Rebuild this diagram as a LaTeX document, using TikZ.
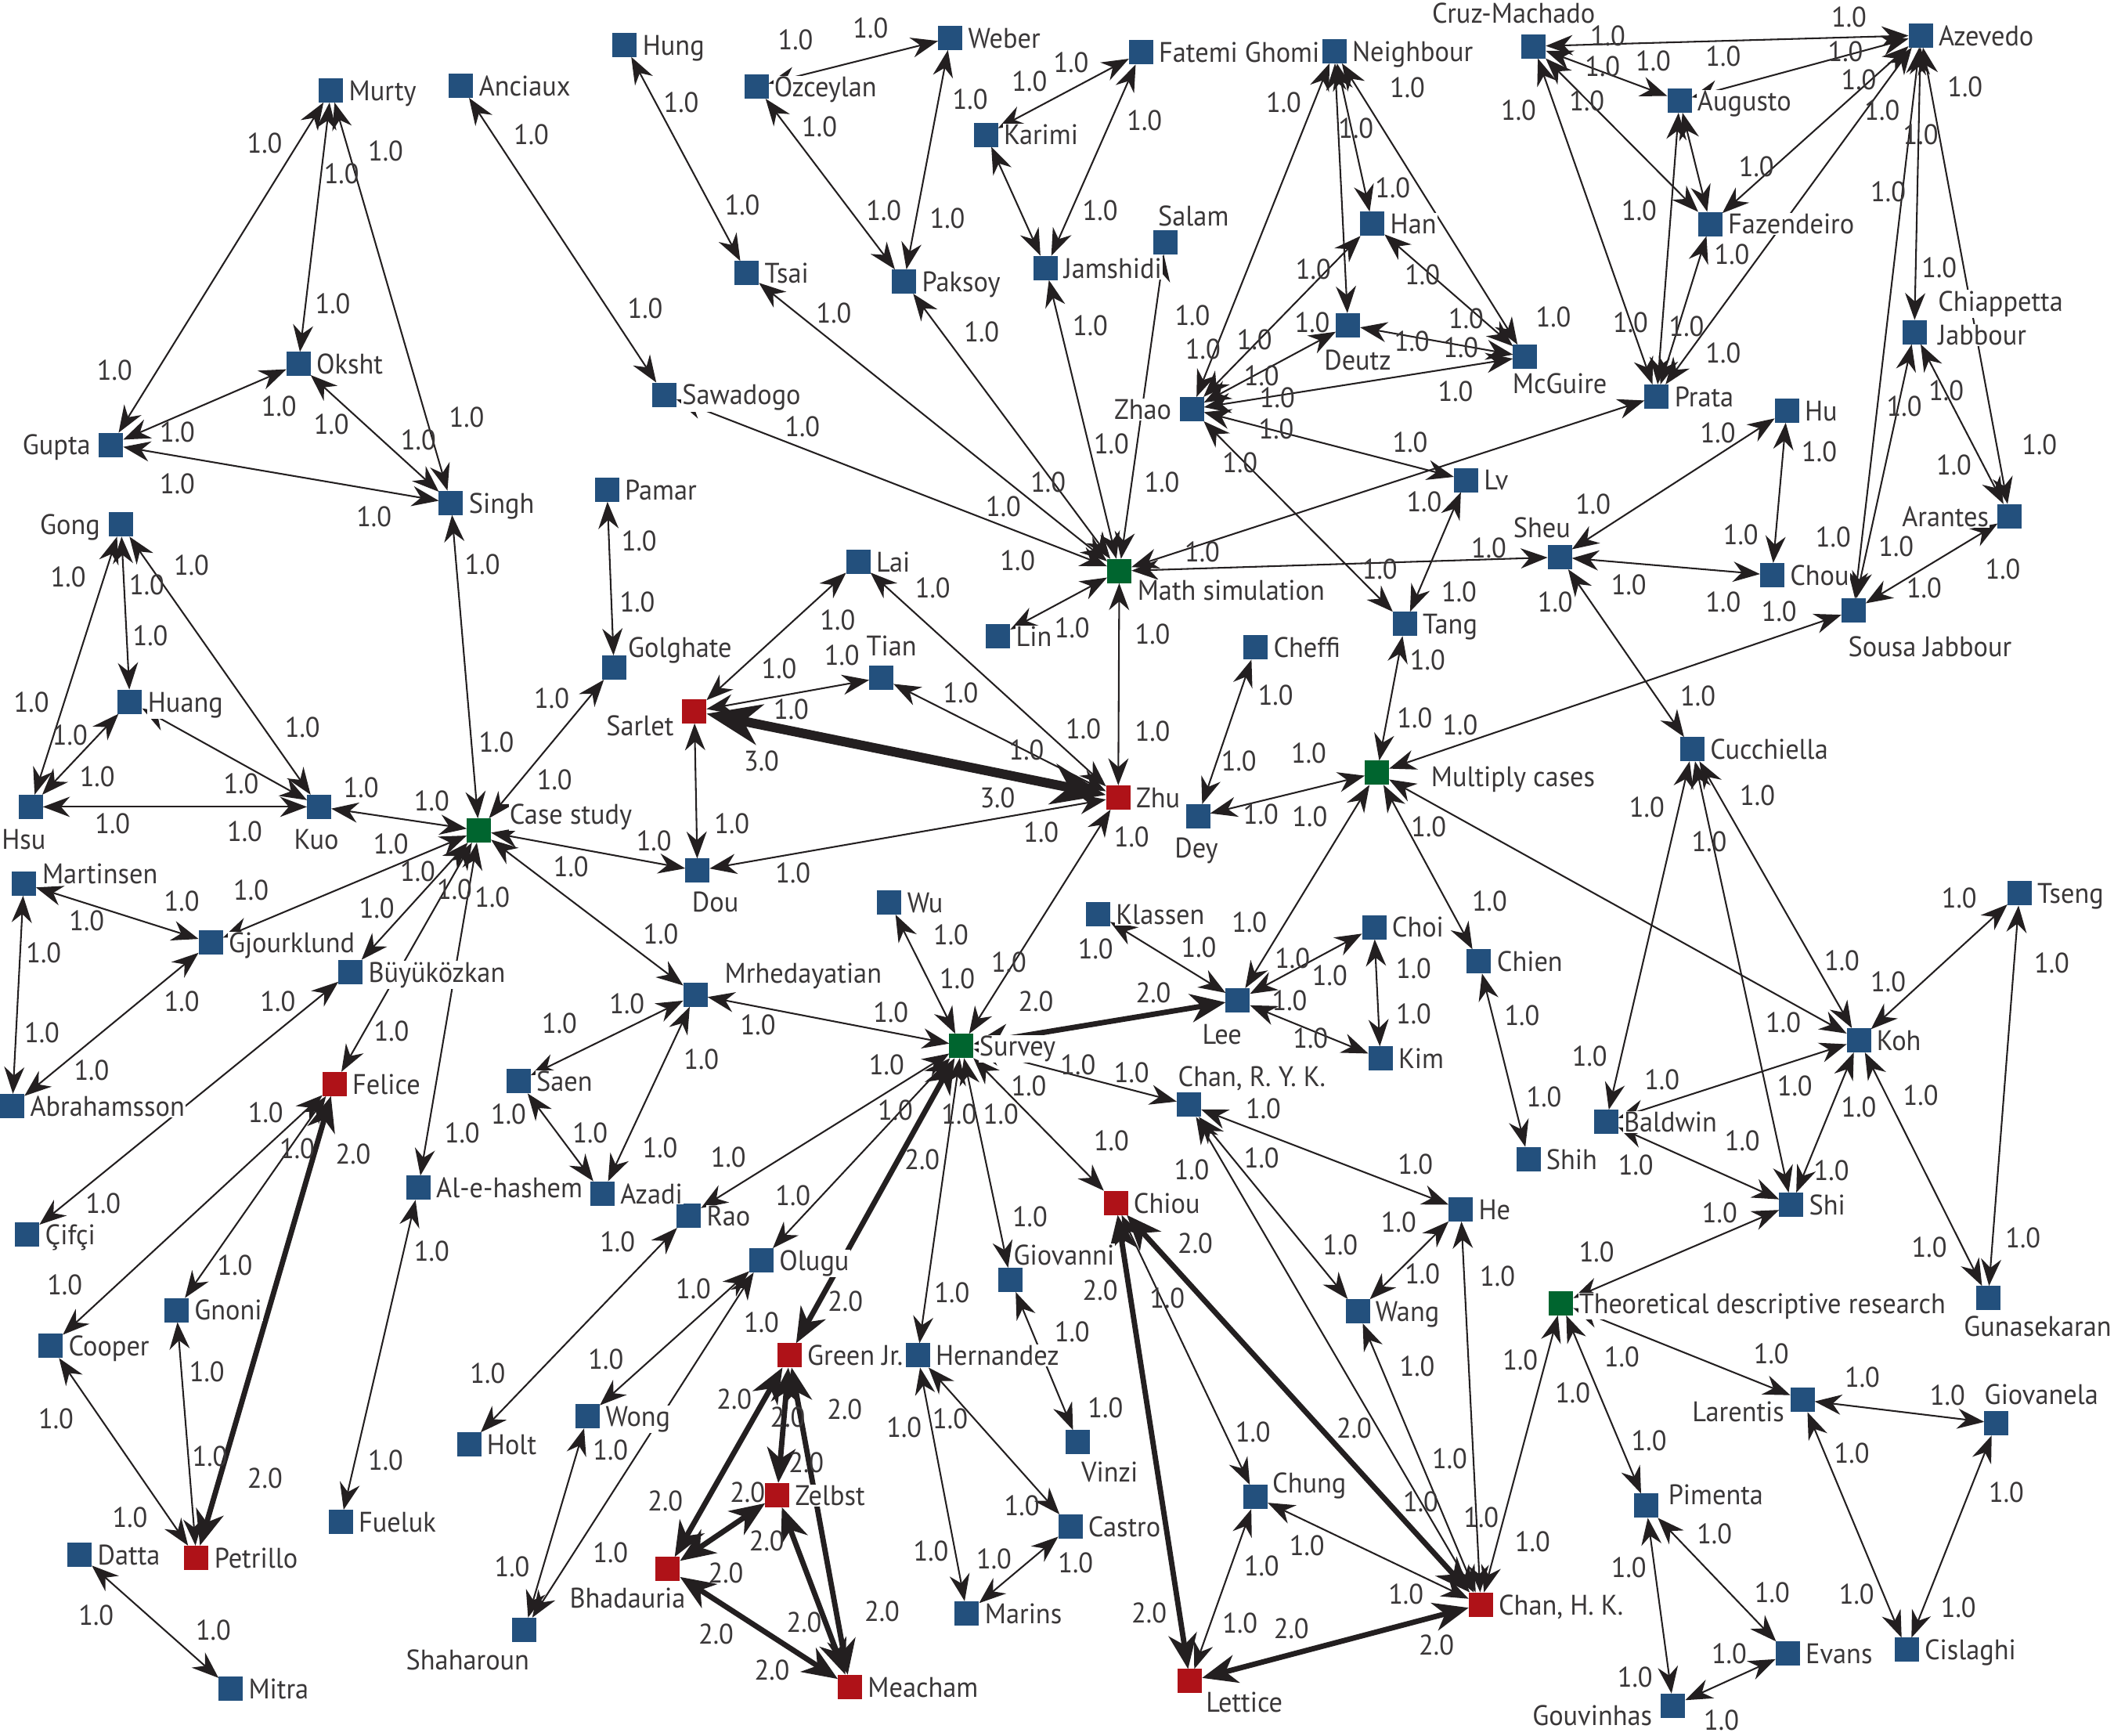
\documentclass[tikz,border=0pt]{standalone}
\usepackage{fontspec}
\setmainfont{PT Sans}[FakeStretch=0.95]
\usetikzlibrary{arrows.meta}
\definecolor{nb}{HTML}{23507D}
\definecolor{nr}{HTML}{AF1218}
\definecolor{ng}{HTML}{00652F}
\definecolor{ink}{HTML}{231F20}
\definecolor{txt}{HTML}{3A3738}
\tikzset{
  sq/.style={rectangle, minimum size=18pt, inner sep=0pt, outer sep=0pt, draw=none},
  bsq/.style={sq, fill=nb},
  rsq/.style={sq, fill=nr},
  gsq/.style={sq, fill=ng},
  lab/.style={font=\fontsize{21}{25}\selectfont, text=txt, fill=white, inner sep=0.6pt},
  wl/.style={font=\fontsize{21}{25}\selectfont, text=txt, inner sep=0pt},
  e/.style={draw=ink, line width=1.2pt, arrows={Stealth[length=20pt,width=15pt,inset=6.5pt]-Stealth[length=20pt,width=15pt,inset=6.5pt]}},
  ee/.style={draw=ink, line width=4pt, arrows={Stealth[length=26pt,width=21pt,inset=8pt]-Stealth[length=26pt,width=21pt,inset=8pt]}},
  eee/.style={draw=ink, line width=7pt, arrows={Stealth[length=40pt,width=30pt,inset=12pt]-Stealth[length=40pt,width=30pt,inset=12pt]}}
}
\newcommand\RL[2]{\node[lab,anchor=base west] (#1-l) at ([xshift=3.5pt,yshift=-7.5pt]#1.east) {#2};}
\begin{document}
\begin{tikzpicture}[x=1pt,y=-1pt]
\useasboundingbox (0,0) rectangle (1568,1287);
% ---------------- nodes
\node[bsq] (murty) at (245.5,67) {};
\node[bsq] (anciaux) at (342,63.6) {};
\node[bsq] (hung) at (463.4,33.2) {};
\node[bsq] (ozceylan) at (561,64.2) {};
\node[bsq] (weber) at (704.8,28.1) {};
\node[bsq] (fatemi) at (846.3,38.8) {};
\node[bsq] (neighbour) at (989.7,38) {};
\node[bsq] (cruz) at (1137.5,34.3) {};
\node[bsq] (azevedo) at (1424.6,26.2) {};
\node[bsq] (augusto) at (1245.7,74.6) {};
\node[bsq] (karimi) at (731.2,99.9) {};
\node[bsq] (oksht) at (221.4,270) {};
\node[bsq] (gupta) at (82.4,329.9) {};
\node[bsq] (singh) at (334.5,372.9) {};
\node[bsq] (tsai) at (553.9,202.6) {};
\node[bsq] (paksoy) at (670.6,208.8) {};
\node[bsq] (jamshidi) at (775.8,198.7) {};
\node[bsq] (salam) at (864.4,179.6) {};
\node[bsq] (han) at (1017.9,166) {};
\node[bsq] (fazendeiro) at (1268.5,166.1) {};
\node[bsq] (chiappetta) at (1419.9,246.3) {};
\node[bsq] (sawadogo) at (492.7,292.7) {};
\node[bsq] (zhao) at (883.9,303.4) {};
\node[bsq] (deutz) at (999.8,241.2) {};
\node[bsq] (mcguire) at (1131.2,264.6) {};
\node[bsq] (prata) at (1228.8,294.1) {};
\node[bsq] (hu) at (1325.3,304.5) {};
\node[bsq] (lv) at (1087.4,356) {};
\node[bsq] (pamar) at (450.2,363.1) {};
\node[bsq] (gong) at (89.7,389) {};
\node[bsq] (arantes) at (1490.7,382.8) {};
\node[bsq] (sheu) at (1156.9,413.2) {};
\node[bsq] (lai) at (636.6,416.5) {};
\node[gsq] (math) at (830.2,423.5) {};
\node[bsq] (chou) at (1314.4,426.5) {};
\node[bsq] (sousa) at (1374.8,452.9) {};
\node[bsq] (lin) at (740.3,471.7) {};
\node[bsq] (tang) at (1042,462.7) {};
\node[bsq] (cheffi) at (931.3,480.2) {};
\node[bsq] (tian) at (653.7,502.7) {};
\node[bsq] (golghate) at (455.4,495.1) {};
\node[bsq] (huang) at (96.4,520.4) {};
\node[rsq] (sarlet) at (515,527.5) {};
\node[bsq] (cucchiella) at (1255.3,555.6) {};
\node[gsq] (multiply) at (1021.3,573.1) {};
\node[rsq] (zhu) at (829.4,591.4) {};
\node[bsq] (hsu) at (22.8,598.4) {};
\node[bsq] (kuo) at (236.7,598.4) {};
\node[gsq] (casestudy) at (355.2,615.9) {};
\node[bsq] (dey) at (888.6,605.4) {};
\node[bsq] (dou) at (517.3,645.7) {};
\node[bsq] (martinsen) at (17.6,655.3) {};
\node[bsq] (tseng) at (1497.9,662.6) {};
\node[bsq] (wu) at (659.7,669.3) {};
\node[bsq] (klassen) at (814.4,678.1) {};
\node[bsq] (choi) at (1019.2,687.6) {};
\node[bsq] (gjourklund) at (156.3,699.2) {};
\node[bsq] (chien) at (1097,713) {};
\node[bsq] (buyukozkan) at (260,720.8) {};
\node[bsq] (mrhedayatian) at (515.8,737.7) {};
\node[bsq] (lee) at (918.1,741.9) {};
\node[gsq] (survey) at (713.1,775.7) {};
\node[bsq] (koh) at (1378.7,771.5) {};
\node[bsq] (kim) at (1023.9,785) {};
\node[rsq] (felice) at (248.1,803.9) {};
\node[bsq] (saen) at (384.6,801.9) {};
\node[bsq] (abrahamsson) at (9.1,820.2) {};
\node[bsq] (chanryk) at (881.8,819.3) {};
\node[bsq] (baldwin) at (1191.2,832) {};
\node[bsq] (shih) at (1133.6,859.6) {};
\node[bsq] (alehashem) at (310.3,880.9) {};
\node[bsq] (azadi) at (446.8,885.1) {};
\node[rsq] (chiou) at (827.6,892.1) {};
\node[bsq] (rao) at (510.9,901.6) {};
\node[bsq] (shi) at (1328.6,893.5) {};
\node[bsq] (he) at (1083.5,896.9) {};
\node[bsq] (cifci) at (20.2,915.6) {};
\node[bsq] (olugu) at (564.8,934.7) {};
\node[bsq] (giovanni) at (749.6,949.2) {};
\node[gsq] (theoretical) at (1157.9,966.5) {};
\node[bsq] (gunasekaran) at (1474.6,962.7) {};
\node[bsq] (gnoni) at (130.9,971.6) {};
\node[bsq] (wang) at (1007,972.5) {};
\node[bsq] (cooper) at (37.6,998.2) {};
\node[rsq] (greenjr) at (585.5,1005.2) {};
\node[bsq] (hernandez) at (680.7,1005.2) {};
\node[bsq] (larentis) at (1336.9,1038.3) {};
\node[bsq] (giovanela) at (1480.8,1055.6) {};
\node[bsq] (wong) at (435.9,1050.3) {};
\node[bsq] (holt) at (347.9,1071.3) {};
\node[bsq] (vinzi) at (799.6,1069.6) {};
\node[bsq] (chung) at (931.3,1110.2) {};
\node[bsq] (pimenta) at (1221,1116.7) {};
\node[rsq] (zelbst) at (576.5,1108.8) {};
\node[bsq] (fueluk) at (252.8,1128.7) {};
\node[bsq] (castro) at (793.9,1132.1) {};
\node[bsq] (datta) at (59.1,1153.1) {};
\node[rsq] (petrillo) at (145.7,1155.3) {};
\node[rsq] (bhadauria) at (495.3,1163.7) {};
\node[rsq] (chanhk) at (1098.3,1190) {};
\node[bsq] (marins) at (717.2,1196.5) {};
\node[bsq] (shaharoun) at (389,1208.7) {};
\node[bsq] (evans) at (1326,1226.4) {};
\node[bsq] (cislaghi) at (1414.2,1223.6) {};
\node[bsq] (mitra) at (171.1,1252.4) {};
\node[rsq] (meacham) at (630.4,1251) {};
\node[rsq] (lettice) at (882.6,1246.8) {};
\node[bsq] (gouvinhas) at (1241,1265) {};
% ---------------- connectors
\foreach \a/\b in {murty/gupta, murty/oksht, murty/singh, oksht/gupta, oksht/singh, gupta/singh, anciaux/sawadogo, hung/tsai, ozceylan/weber, ozceylan/paksoy, weber/paksoy, fatemi/karimi, fatemi/jamshidi, karimi/jamshidi, neighbour/zhao, neighbour/han, neighbour/deutz, neighbour/mcguire, cruz/azevedo, cruz/augusto, cruz/fazendeiro, cruz/prata, azevedo/augusto, azevedo/fazendeiro, azevedo/prata, azevedo/chiappetta, azevedo/sousa, azevedo/arantes, augusto/fazendeiro, augusto/prata, fazendeiro/prata, chiappetta/arantes, chiappetta/sousa, arantes/sousa, hu/sheu, hu/chou, sheu/chou, sheu/cucchiella, han/zhao, han/mcguire, deutz/zhao, deutz/mcguire, mcguire/zhao, zhao/lv, zhao/tang, lv/tang, tang/multiply, math/tsai, math/paksoy, math/jamshidi, math/salam, math/sawadogo, math/prata, math/sheu, math/lin, math/zhu, singh/casestudy, pamar/golghate, golghate/casestudy, gong/huang, gong/hsu, gong/kuo, huang/hsu, huang/kuo, hsu/kuo, kuo/casestudy, lai/sarlet, lai/zhu, tian/sarlet, tian/zhu, sarlet/dou, zhu/dou, casestudy/dou, casestudy/gjourklund, casestudy/buyukozkan, casestudy/felice, casestudy/alehashem, casestudy/mrhedayatian, martinsen/gjourklund, martinsen/abrahamsson, gjourklund/abrahamsson, buyukozkan/cifci, zhu/survey, cheffi/dey, dey/multiply, multiply/sousa, multiply/lee, multiply/chien, multiply/koh, cucchiella/baldwin, cucchiella/koh, cucchiella/shi, tseng/koh, tseng/gunasekaran, koh/baldwin, koh/shi, koh/gunasekaran, baldwin/shi, shi/theoretical, klassen/lee, lee/choi, lee/kim, choi/kim, chien/shih, wu/survey, survey/mrhedayatian, survey/chanryk, survey/chiou, survey/rao, survey/olugu, survey/hernandez, survey/giovanni, mrhedayatian/saen, mrhedayatian/azadi, saen/azadi, chanryk/he, chanryk/wang, chanryk/chanhk, he/wang, he/chanhk, wang/chanhk, chiou/chung, chung/lettice, chung/chanhk, chanhk/theoretical, theoretical/larentis, theoretical/pimenta, larentis/giovanela, larentis/cislaghi, giovanela/cislaghi, pimenta/evans, pimenta/gouvinhas, evans/gouvinhas, felice/cooper, felice/gnoni, gnoni/petrillo, cooper/petrillo, datta/mitra, alehashem/fueluk, rao/holt, olugu/wong, olugu/shaharoun, wong/shaharoun, hernandez/marins, hernandez/castro, castro/marins, giovanni/vinzi}
  \draw[e] (\a) -- (\b);
\foreach \a/\b in {lee/survey, survey/greenjr, felice/petrillo, greenjr/zelbst, greenjr/bhadauria, greenjr/meacham, zelbst/bhadauria, zelbst/meacham, bhadauria/meacham, chiou/lettice, chiou/chanhk, lettice/chanhk}
  \draw[ee] (\a) -- (\b);
\draw[eee] (sarlet) -- (zhu);
% ---------------- node labels
\RL{murty}{Murty}\RL{anciaux}{Anciaux}\RL{hung}{Hung}\RL{ozceylan}{Ozceylan}
\RL{weber}{Weber}\RL{fatemi}{Fatemi Ghomi}\RL{neighbour}{Neighbour}\RL{azevedo}{Azevedo}
\RL{augusto}{Augusto}\RL{karimi}{Karimi}\RL{oksht}{Oksht}\RL{singh}{Singh}
\RL{tsai}{Tsai}\RL{paksoy}{Paksoy}\RL{jamshidi}{Jamshidi}\RL{han}{Han}
\RL{fazendeiro}{Fazendeiro}\RL{sawadogo}{Sawadogo}\RL{prata}{Prata}\RL{hu}{Hu}
\RL{lv}{Lv}\RL{pamar}{Pamar}\RL{lai}{Lai}\RL{chou}{Chou}\RL{lin}{Lin}\RL{tang}{Tang}
\RL{cheffi}{Cheffi}\RL{huang}{Huang}\RL{cucchiella}{Cucchiella}\RL{zhu}{Zhu}
\RL{tseng}{Tseng}\RL{wu}{Wu}\RL{klassen}{Klassen}\RL{choi}{Choi}
\RL{gjourklund}{Gjourklund}\RL{chien}{Chien}\RL{buyukozkan}{Büyüközkan}
\RL{survey}{Survey}\RL{koh}{Koh}\RL{kim}{Kim}\RL{felice}{Felice}\RL{saen}{Saen}
\RL{abrahamsson}{Abrahamsson}\RL{baldwin}{Baldwin}\RL{shih}{Shih}
\RL{alehashem}{Al-e-hashem}\RL{azadi}{Azadi}\RL{chiou}{Chiou}\RL{rao}{Rao}
\RL{shi}{Shi}\RL{he}{He}\RL{cifci}{Çifçi}\RL{olugu}{Olugu}
\RL{theoretical}{Theoretical descriptive research}\RL{gnoni}{Gnoni}\RL{wang}{Wang}
\RL{cooper}{Cooper}\RL{greenjr}{Green Jr.}\RL{hernandez}{Hernandez}\RL{wong}{Wong}
\RL{holt}{Holt}\RL{zelbst}{Zelbst}\RL{fueluk}{Fueluk}\RL{castro}{Castro}
\RL{datta}{Datta}\RL{petrillo}{Petrillo}\RL{chanhk}{Chan, H. K.}\RL{marins}{Marins}
\RL{evans}{Evans}\RL{cislaghi}{Cislaghi}\RL{mitra}{Mitra}\RL{meacham}{Meacham}
\node[lab,anchor=base west] (cruz-l) at (1061.5,17.4) {Cruz-Machado};
\node[lab,anchor=base] (salam-l) at (885.2,167.4) {Salam};
\node[lab,anchor=base west] (chiappetta-l) at (1436.7,230.7) {Chiappetta};
\node[lab,anchor=base west] (chiappetta-m) at (1436.7,255.7) {Jabbour};
\node[lab,anchor=base east] (zhao-l) at (869.6,310.9) {Zhao};
\node[lab,anchor=base east] (gupta-l) at (68,337.4) {Gupta};
\node[lab,anchor=base] (deutz-l) at (1007,274.3) {Deutz};
\node[lab,anchor=base west] (mcguire-l) at (1121.1,291.8) {McGuire};
\node[lab,anchor=base east] (gong-l) at (75,396.5) {Gong};
\node[lab,anchor=base east] (arantes-l) at (1475.9,390.3) {Arantes};
\node[lab,anchor=base] (sheu-l) at (1143.7,398.7) {Sheu};
\node[lab,anchor=base west] (math-l) at (842.9,445) {Math simulation};
\node[lab,anchor=base west] (sousa-l) at (1370.1,487.1) {Sousa Jabbour};
\node[lab,anchor=base] (tian-l) at (661.2,486.3) {Tian};
\node[lab,anchor=base west] (golghate-l) at (465,487.7) {Golghate};
\node[lab,anchor=base east] (sarlet-l) at (500.5,545.4) {Sarlet};
\node[lab,anchor=base west] (multiply-l) at (1060.7,583.4) {Multiply cases};
\node[lab,anchor=base] (hsu-l) at (17.6,629.8) {Hsu};
\node[lab,anchor=base] (kuo-l) at (234.6,629.8) {Kuo};
\node[lab,anchor=base west] (casestudy-l) at (377.2,611.5) {Case study};
\node[lab,anchor=base] (dey-l) at (887.3,636.3) {Dey};
\node[lab,anchor=base] (dou-l) at (530.6,676.3) {Dou};
\node[lab,anchor=base west] (martinsen-l) at (30.6,655.2) {Martinsen};
\node[lab,anchor=base west] (mrhedayatian-l) at (536.8,729.2) {Mrhedayatian};
\node[lab,anchor=base] (lee-l) at (906.4,774.2) {Lee};
\node[lab,anchor=base west] (chanryk-l) at (873,805.7) {Chan, R. Y. K.};
\node[lab,anchor=base west] (giovanni-l) at (751,938) {Giovanni};
\node[lab,anchor=base] (gunasekaran-l) at (1511.4,991.2) {Gunasekaran};
\node[lab,anchor=base east] (larentis-l) at (1324.2,1054.2) {Larentis};
\node[lab,anchor=base west] (giovanela-l) at (1471.2,1041.6) {Giovanela};
\node[lab,anchor=base] (vinzi-l) at (823,1099) {Vinzi};
\node[lab,anchor=base west] (chung-l) at (943,1107.4) {Chung};
\node[lab,anchor=base west] (pimenta-l) at (1236.6,1115.8) {Pimenta};
\node[lab,anchor=base west] (bhadauria-l) at (421.7,1192.7) {Bhadauria};
\node[lab,anchor=base] (shaharoun-l) at (346.9,1238.4) {Shaharoun};
\node[lab,anchor=base west] (lettice-l) at (893.7,1269.7) {Lettice};
\node[lab,anchor=base east] (gouvinhas-l) at (1226.2,1279.5) {Gouvinhas};
% ---------------- weight labels
\foreach \x/\y [count=\i] in {196.3/106.4, 85/274.4, 253.3/128.9, 246.8/225.2, 286/112, 346.1/309.6, 206.9/301.2, 131.5/320.3, 245.8/314.7, 310.3/326.5, 131.5/358.9, 277.4/383.3, 394/100, 357.8/418.8, 50.6/427.8, 108.9/434, 142/419.4,
505.2/76, 550.5/152, 590/29.6, 645.7/21.1, 607.8/93.7, 655.5/156.2, 719.6/73.7, 702.7/161.8, 763.6/60.5, 478.5/228.5, 618.5/232.2, 728.1/246.3, 595.1/316.6, 744.2/375.7, 777.4/357.4, 754.8/416, 474/401, 691.8/436,
794.4/46.4, 848.9/89.5, 816/156.2, 952.1/76, 1005.7/95.1, 1043.9/64.7, 1033/139.3, 974.1/199.8, 1055/204, 884.4/234.2, 930.5/251.9, 973.3/239.2, 892.2/258.9, 935.7/278.6, 1047.2/253.3, 1087.4/236.4, 1083.5/257.5, 1152.2/235, 1079.6/290, 947.4/295, 946.6/318, 919.7/343.4, 1045.9/327.9, 1056.3/372.1, 824.3/329.3, 808.7/241.5, 861.8/357.4, 891.7/409.5, 1023.4/422.2, 1104.3/406.7, 1126.3/81.6, 1082.2/439,
1192.5/26.7, 1371.4/12.7, 1188.6/49.3, 1226.2/45, 1278.1/41.7, 1368.8/38, 1177/74.6, 1378.7/59.1, 1457.5/64.2, 1396/81.6, 1424.6/100, 1302.7/123.8, 1215.8/156.2, 1400.5/142.1, 1284.6/188.6, 1438.3/198.4, 1209.4/239.2, 1250.9/242, 1278.1/261.8, 1412.4/301.2, 1443.5/289.9, 1274.2/320.9, 1349.4/334.9, 1512.7/329.9, 1449.2/344.8, 1181.6/373.8, 1291.1/396.3, 1359.7/398.3, 1406.4/405.3, 1485.5/422.2, 1208.1/434, 1427.1/436,
111.5/471.7, 23.3/521, 51.9/545, 72.1/575.9, 224.3/539.3, 178.9/581.5, 267.8/584.3, 83.5/611.1, 181.5/616.7, 320.2/594.2, 368.2/550.6, 289.9/626, 309.8/646.2, 186.2/660.3, 134.8/668.2, 64.3/682.8, 279.5/673.8, 337.1/659.8, 365.1/665.4, 32.4/706.8, 134.8/742.5, 206.1/742.5, 31.1/765.9, 67.9/794, 290.4/764.5, 197/825, 220.4/851.7, 342.8/840.4, 377.2/826.4,
472.7/446.4, 409.2/518.2, 411.3/578.1, 621.3/459.9, 577.8/495.7, 624.4/485.8, 586.8/525.8, 712.6/514, 761.3/556.2, 772.2/617.5, 542.8/611.1, 485/623.7, 423.5/642.9, 588.1/647.7, 490.1/692.7, 705.3/693.5, 748.3/713.8, 710/725.6, 660.7/751, 465/744.2, 562.2/760.2, 414.9/758.8, 520.2/785.6, 657.6/789.8, 763.1/805.3, 664.1/823.6, 711.3/826.4, 742.4/826.4, 437.7/840.5, 489.6/851, 540.2/858,
795.2/465.6, 854.8/470.3, 803.5/540.7, 854.8/542.1, 839.3/620.9, 1153.5/446.4, 1058.9/489.2, 946.1/515.4, 918.9/564.6, 970.7/558.4, 1049.3/532.3, 1083/537.9, 935.2/604, 971.5/605.4, 1059.7/613, 926.7/684.2, 1104.8/668.2, 812.6/704, 889.1/702.5, 958.6/711, 986.3/723.6, 1048.5/718, 956.5/742, 1048.5/751.8, 972/770.1, 1128.9/753.2, 1145.2/813.7, 799.6/789.8, 839.3/795.4, 937/822.2, 824.3/846.1,
1278.1/446.4, 1319.6/453.5, 1259.4/516.2, 1221.5/598.4, 1303.5/590, 1267.7/624.3, 1453.1/665.9, 1521.8/714.4, 1366.2/712.4, 1400.5/727.9, 1322.7/758.3, 1179/783.6, 1232.7/800.5, 1331.2/805.3, 1378.7/820.8, 1424.6/812.3, 1292.3/846.1, 1213.3/864,
76.5/892.7, 174.2/938.1, 48/952.9, 320.2/927.7, 153.5/1017.3, 41.5/1052.3, 361.7/1018.7, 155.6/1080.3, 286/1083, 96.4/1125.1, 379.8/1162, 71.3/1197.8, 158.2/1209,
458/921.2, 588.1/886.5, 763.9/902.5, 514.2/955.7, 564.8/980.9, 706.1/958.5, 449.4/1008, 670.6/1058.4, 704.8/1052.3, 452.8/1075.2, 452.8/1151.6, 757.9/1116.7, 690.5/1150.2, 737.2/1155.9,
883.9/867.5, 935.7/859.1, 1049.8/863.3, 1037.4/906.7, 994.1/923.5, 1055/944.5, 1110.7/946.4, 865.7/962.7, 795.2/987.9, 1051.1/1013.1, 1127.6/1008.9, 1166.5/1033, 819.9/1043.9, 929.3/1062.1, 1075.2/1081.7, 1053.7/1113.9, 1098.6/1125.1, 1136.7/1143.2, 969.4/1146, 935.7/1161.5, 797.8/1159.2, 1042.8/1182.4, 919.7/1204,
1358.4/868.1, 1275.5/899.7, 1184.2/928.5, 1431/924.9, 1500.5/917.9, 1202.9/1006.1, 1313.8/1004.1, 1381.3/1021.5, 1444.5/1034.9, 1223.1/1068.5, 1373.5/1077.5, 1488.1/1106.9, 1271.6/1137.7, 1208.1/1162.8, 1314.4/1181, 1377.1/1182.4, 1452.6/1192.2, 1282.5/1226.4, 1212.7/1244, 1276.8/1275.5}
  \node[wl] (wa\i) at (\x,\y) {1.0};
\foreach \x/\y [count=\i] in {261.9/855.9, 768.3/742.5, 684/860.1, 855.4/736.3, 196.5/1096.5, 627/964.9, 544.6/1037.7, 584.2/1050.9, 626.5/1045.3, 598/1084.5, 493.5/1113.3, 554.4/1106.9, 568.7/1142.7, 538.3/1166.5, 531.1/1211.9, 596.4/1203.4, 654.2/1195, 572.6/1238.4, 886.5/922.1, 816/957.1, 1004.4/1059.3, 852.3/1196.5, 957.8/1207.6, 1065.4/1220.2}
  \node[wl] (wb\i) at (\x,\y) {2.0};
\foreach \x/\y [count=\i] in {564.8/564.6, 739.8/591.4}
  \node[wl] (wc\i) at (\x,\y) {3.0};
\end{tikzpicture}
\end{document}
